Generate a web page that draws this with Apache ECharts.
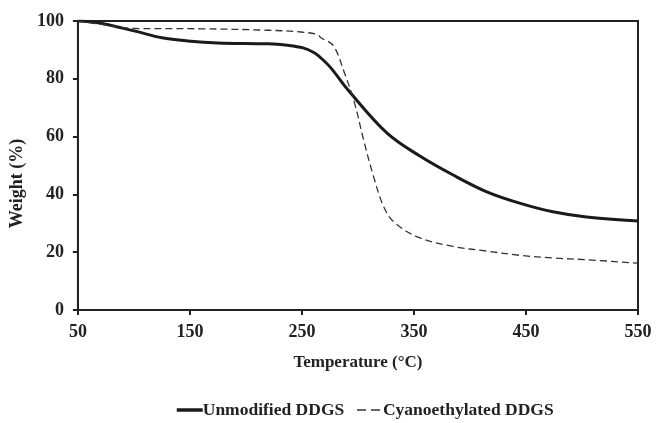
<!DOCTYPE html>
<html><head><meta charset="utf-8">
<script src="https://cdn.jsdelivr.net/npm/echarts@6/dist/echarts.min.js"></script>
<style>html,body{margin:0;padding:0;background:#fff}#c{width:656px;height:423px}</style>
</head><body><div id="c"></div>
<script>
const unmodT = [50, 68, 101, 125, 148, 175, 220, 237, 251, 261, 267, 276, 291, 326, 356, 385, 415, 445, 474, 504, 550];
const unmodW = [100, 99.4, 96.5, 94.2, 93.1, 92.4, 92.1, 91.6, 90.7, 89, 87.2, 83.7, 76.2, 61.2, 53.1, 46.7, 40.9, 36.9, 34, 32.2, 30.8];
const cyanoT = [50, 71, 101, 160, 220, 249, 264, 267, 278, 288, 297, 305, 314, 323, 332, 353, 385, 415, 445, 474, 504, 550];
const cyanoW = [100, 98.8, 97.4, 97.3, 96.8, 96.2, 95.3, 94.2, 91.5, 82, 71.6, 58.9, 46.1, 35.7, 30.5, 25.3, 22.0, 20.4, 18.9, 18.0, 17.4, 16.2];
const seriesNames = ['Unmodified DDGS', 'Cyanoethylated DDGS'];
const xTitle = 'Temperature (°C)';
const yTitle = 'Weight (%)';

const font = '"Liberation Serif", "DejaVu Serif", serif';
const chart = echarts.init(document.getElementById('c'));
chart.setOption({
  animation: false,
  textStyle: { fontFamily: font, color: '#222' },
  grid: { left: 76, right: 18, top: 21, bottom: 113, show: true, borderColor: '#222', borderWidth: 2, backgroundColor: 'transparent' },
  legend: {
    left: 170, top: 396, itemWidth: 26, itemHeight: 14, itemGap: 12,
    itemStyle: { opacity: 0 },
    textStyle: { fontFamily: font, fontWeight: 'bold', fontSize: 17.5, color: '#222', padding: [0,0,0,-5] },
    data: [
      { name: seriesNames[0], lineStyle: { width: 3.5, color: '#1a1a1a', type: 'solid' } },
      { name: seriesNames[1], lineStyle: { width: 1.5, color: '#333', type: [9, 5] } }
    ]
  },
  xAxis: {
    type: 'value', min: 50, max: 550, interval: 100,
    name: xTitle, nameLocation: 'middle', nameGap: 44,
    nameTextStyle: { fontFamily: font, fontWeight: 'bold', fontSize: 17, color: '#222' },
    axisLine: { show: true, lineStyle: { color: '#222', width: 2 } },
    axisTick: { show: true, length: 5, lineStyle: { color: '#222', width: 2 } },
    axisLabel: { fontFamily: font, fontWeight: 'bold', fontSize: 18, color: '#222', margin: 13 },
    splitLine: { show: false }
  },
  yAxis: {
    type: 'value', min: 0, max: 100, interval: 20,
    name: yTitle, nameLocation: 'middle', nameGap: 44,
    nameTextStyle: { fontFamily: font, fontWeight: 'bold', fontSize: 18, color: '#222', padding: [0, 36, 0, 0] },
    axisLine: { show: true, lineStyle: { color: '#222', width: 2 } },
    axisTick: { show: true, length: 5, lineStyle: { color: '#222', width: 2 } },
    axisLabel: { fontFamily: font, fontWeight: 'bold', fontSize: 18, color: '#222', margin: 14 },
    splitLine: { show: false }
  },
  series: [
    {
      name: seriesNames[0], type: 'line', smooth: 0.35, symbol: 'none',
      data: unmodT.map((t, i) => [t, unmodW[i]]),
      lineStyle: { color: '#1a1a1a', width: 3 }, itemStyle: { color: '#1a1a1a' }
    },
    {
      name: seriesNames[1], type: 'line', smooth: 0.35, symbol: 'none',
      data: cyanoT.map((t, i) => [t, cyanoW[i]]),
      lineStyle: { color: '#333', width: 1.3, type: [7, 4] }, itemStyle: { color: '#333' }
    }
  ]
});
</script></body></html>
